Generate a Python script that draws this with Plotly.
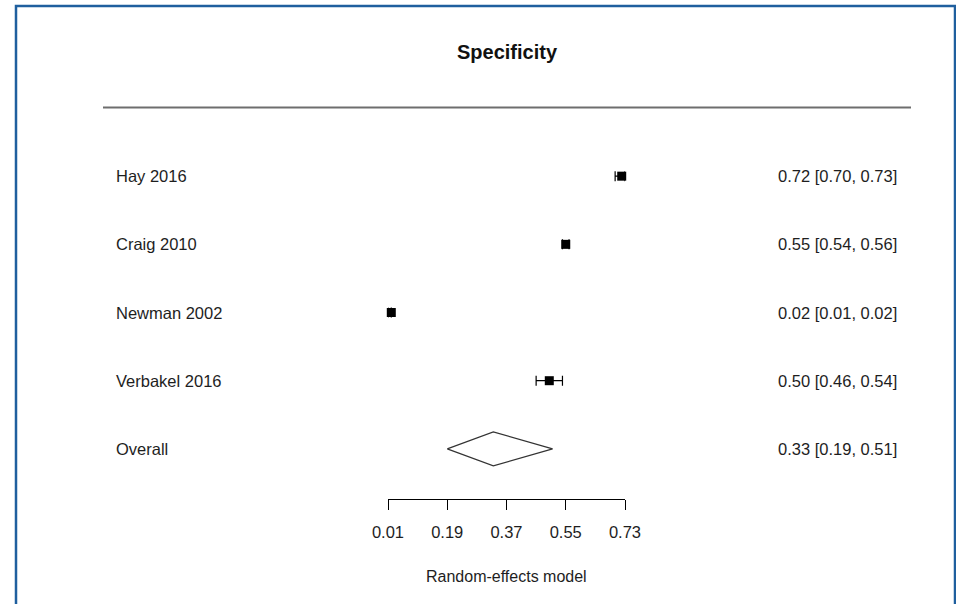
import plotly.graph_objects as go

# ---- data ----
studies = ["Hay 2016", "Craig 2010", "Newman 2002", "Verbakel 2016"]
estimates = [0.72, 0.55, 0.02, 0.50]
lower = [0.70, 0.54, 0.01, 0.46]
upper = [0.73, 0.56, 0.02, 0.54]
overall_label = "Overall"
overall_est = 0.33
overall_lo = 0.19
overall_hi = 0.51
tick_vals = [0.01, 0.19, 0.37, 0.55, 0.73]
tick_text = ["0.01", "0.19", "0.37", "0.55", "0.73"]
title_text = "Specificity"
axis_title = "Random-effects model"

W, H = 956, 604
PL, PR, PT, PB = 388, 625, 108, 499  # plot area pixel bounds


def px_x(px):
    return (px - PL) / (PR - PL)


def px_y(py):
    return (PB - py) / (PB - PT)


n = len(studies)
rows = list(range(n + 1, 1, -1))  # 5,4,3,2
overall_row = 1

fig = go.Figure()

fig.add_trace(go.Scatter(
    x=estimates, y=rows, mode="markers",
    marker=dict(symbol="square", size=9, color="black"),
    error_x=dict(type="data", symmetric=False,
                 array=[u - e for u, e in zip(upper, estimates)],
                 arrayminus=[e - l for e, l in zip(estimates, lower)],
                 color="black", thickness=1.2, width=5),
    cliponaxis=False, showlegend=False, hoverinfo="skip",
))

h = 0.25
fig.add_trace(go.Scatter(
    x=[overall_lo, overall_est, overall_hi, overall_est, overall_lo],
    y=[overall_row, overall_row + h, overall_row, overall_row - h, overall_row],
    mode="lines", fill="toself", fillcolor="white",
    line=dict(color="#333333", width=1.2),
    cliponaxis=False, showlegend=False, hoverinfo="skip",
))

font = "Liberation Sans, Arial, sans-serif"
txt = "#1e1e1e"
annotations = []
labels = studies + [overall_label]
all_rows = rows + [overall_row]
ests = estimates + [overall_est]
los = lower + [overall_lo]
his = upper + [overall_hi]
for lab, r, e, l, u in zip(labels, all_rows, ests, los, his):
    annotations.append(dict(x=px_x(114), xref="paper", y=r, yref="y",
                            text=lab, showarrow=False, xanchor="left",
                            yanchor="middle", font=dict(size=16.5, color=txt, family=font)))
    annotations.append(dict(x=px_x(776), xref="paper", y=r, yref="y",
                            text=f"{e:.2f} [{l:.2f}, {u:.2f}]", showarrow=False,
                            xanchor="left", yanchor="middle",
                            font=dict(size=16.5, color=txt, family=font)))

annotations.append(dict(x=px_x(507), xref="paper", y=px_y(52), yref="paper",
                        text=f"<b>{title_text}</b>", showarrow=False,
                        xanchor="center", yanchor="middle",
                        font=dict(size=20, color="#111111", family=font)))
annotations.append(dict(x=0.5, xref="paper", y=px_y(576), yref="paper",
                        text=axis_title, showarrow=False,
                        xanchor="center", yanchor="middle",
                        font=dict(size=16, color=txt, family=font)))

shapes = [
    dict(type="line", xref="paper", yref="paper",
         x0=px_x(103), x1=px_x(911), y0=px_y(107.5), y1=px_y(107.5),
         line=dict(color="#6e6e6e", width=2)),
    dict(type="rect", xref="paper", yref="paper",
         x0=px_x(16), x1=px_x(955), y0=px_y(6), y1=px_y(620),
         line=dict(color="#1f5f9e", width=2.5), fillcolor="rgba(0,0,0,0)"),
]

fig.update_layout(
    width=W, height=H,
    margin=dict(l=PL, r=W - PR, t=PT, b=H - PB, pad=0),
    paper_bgcolor="white", plot_bgcolor="white",
    xaxis=dict(range=[tick_vals[0], tick_vals[-1]], tickvals=tick_vals,
               ticktext=tick_text, showgrid=False, zeroline=False,
               showline=True, linecolor="black", linewidth=1.2,
               ticks="outside", ticklen=10, tickwidth=1.2, tickcolor="black",
               ticklabelstandoff=8,
               tickfont=dict(size=16.5, color=txt, family=font)),
    yaxis=dict(range=[overall_row - (PB - 449) / 68.0, n + 1 + (176 - PT) / 68.0],
               showgrid=False, zeroline=False, showline=False,
               showticklabels=False, ticks=""),
    annotations=annotations, shapes=shapes,
)

fig.write_html(
    "out.html",
    config={"displayModeBar": False},
    post_script="document.body.style.margin='0px';document.body.style.overflow='hidden';",
)
